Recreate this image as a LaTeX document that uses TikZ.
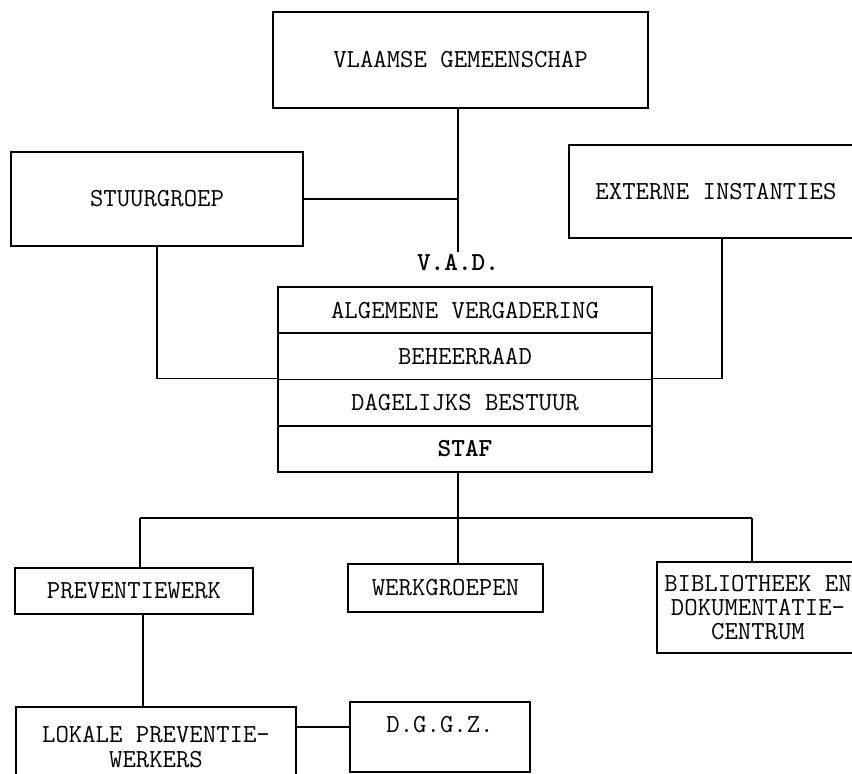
\documentclass[tikz,border=0pt]{standalone}
\usepackage{fontspec}
\begin{document}
\begin{tikzpicture}[x=0.5pt,y=-0.5pt,
  txt/.style={font=\ttfamily\fontsize{13}{12.5}\selectfont},
  box/.style={draw,line width=0.9pt,inner sep=0pt,align=center,txt},
  row/.style={box,minimum width=187pt,minimum height=23.125pt},
  conn/.style={line width=0.9pt}]
\useasboundingbox (0,0) rectangle (852,774);
\begin{scope}
\clip (0,0) rectangle (852,774);
% top
\node[box,minimum width=187.5pt,minimum height=48pt] (vg) at (460.5,60) {VLAAMSE GEMEENSCHAP};
\node[box,minimum width=146pt,minimum height=47pt] (sg) at (157,199) {STUURGROEP};
\node[box,minimum width=147pt,minimum height=46.5pt] (ei) at (716,191.5) {EXTERNE INSTANTIES};
\node[txt,font=\ttfamily\fontsize{13}{12.5}\selectfont\bfseries,inner sep=1pt] (vad) at (458,263) {V.A.D.};
% stack
\node[row] (av) at (465,310.1) {ALGEMENE VERGADERING};
\node[row] (br) at (465,356.4) {BEHEERRAAD};
\node[row] (db) at (465,402.6) {DAGELIJKS BESTUUR};
\node[row,font=\ttfamily\fontsize{13}{12.5}\selectfont\bfseries] (st) at (465,448.9) {STAF};
% lower
\node[box,minimum width=119pt,minimum height=23pt] (pw) at (134,591) {PREVENTIEWERK};
\node[box,minimum width=97.5pt,minimum height=24pt] (wg) at (445.5,588) {WERKGROEPEN};
\node[box,minimum width=101pt,minimum height=45.5pt,font=\ttfamily\fontsize{13}{12}\selectfont] (bib) at (758,607.5) {BIBLIOTHEEK EN\\DOKUMENTATIE-\\CENTRUM};
\node[box,minimum width=140pt,minimum height=40pt] (lpw) at (156,747) {LOKALE PREVENTIE-\\WERKERS};
\node[box,minimum width=90pt,minimum height=35pt] (dg) at (440,737) {D.G.G.Z.\\\mbox{}};
% connectors
\draw[conn] (vg.south -| vad.north) -- (vad.north);
\coordinate (j1) at (sg.east -| vad);
\draw[conn] (sg.east) -- (j1);
\draw[conn] (sg.south) |- (db.north west);
\draw[conn] ([xshift=3pt]ei.south) |- (db.north east);
\coordinate (bus) at (458,518);
\draw[conn] (st.south -| bus) -- (bus);
\coordinate (busl) at (140,518);
\coordinate (busr) at (752,518);
\draw[conn] (busl) -- (busr);
\draw[conn] (busl) -- (busl |- pw.north);
\draw[conn] (bus) -- (bus |- wg.north);
\draw[conn] (busr) -- (busr |- bib.north);
\draw[conn] ([xshift=4.5pt]pw.south) -- ([xshift=4.5pt]pw.south |- lpw.north);
\draw[conn] ([yshift=5pt]dg.west) -- ([yshift=5pt]dg.west -| lpw.east);
\end{scope}
\end{tikzpicture}
\end{document}
